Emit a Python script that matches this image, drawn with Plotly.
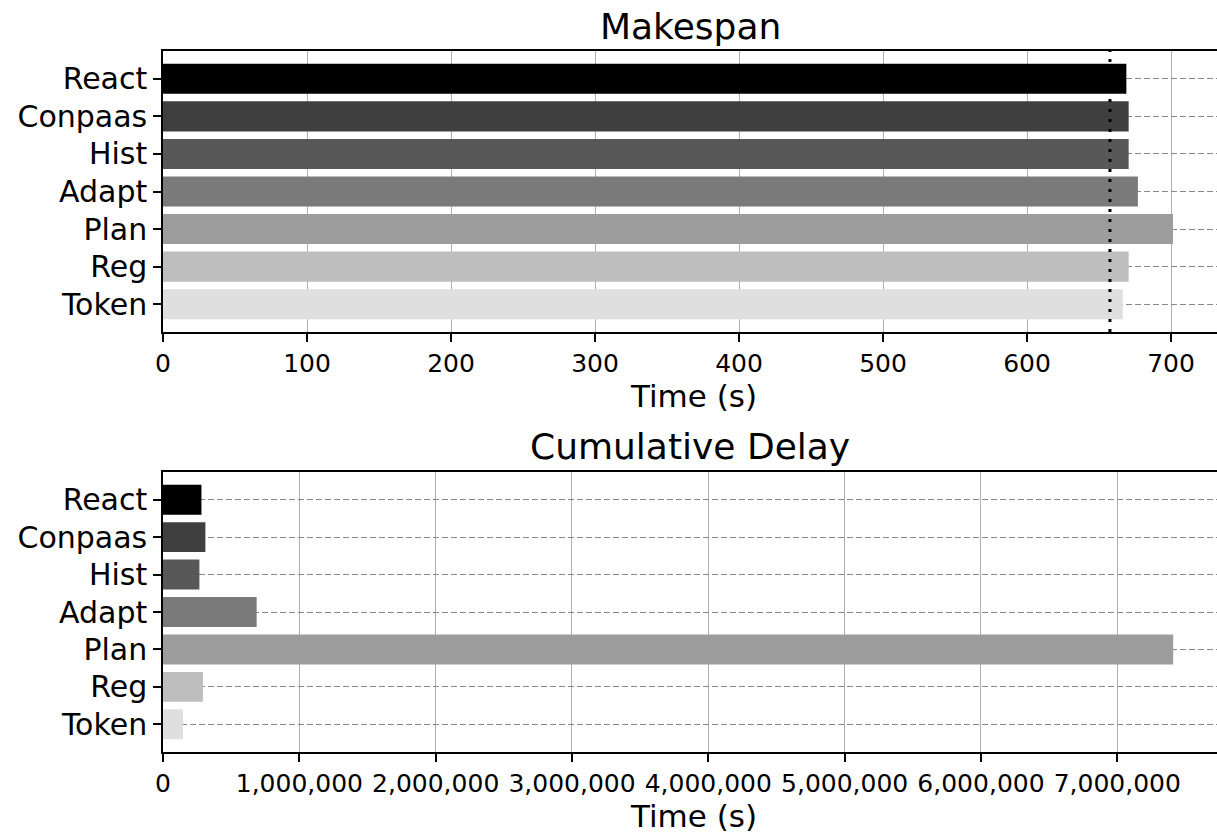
import plotly.graph_objects as go

categories = ["React", "Conpaas", "Hist", "Adapt", "Plan", "Reg", "Token"]
makespan = [669.0, 670.6, 670.6, 677.0, 701.4, 670.6, 666.5]
cum_delay = [282000, 311000, 267000, 687000, 7410000, 293000, 147000]
makespan_ref = 657.6
bar_colors = ["#000000", "#3f3f3f", "#585858", "#7a7a7a", "#9d9d9d", "#bebebe", "#dfdfdf"]
top_ticks = [0, 100, 200, 300, 400, 500, 600, 700]
bottom_ticks = [0, 1e6, 2e6, 3e6, 4e6, 5e6, 6e6, 7e6]
bottom_ticktext = ["0", "1,000,000", "2,000,000", "3,000,000", "4,000,000",
                   "5,000,000", "6,000,000", "7,000,000"]

FONT = "DejaVu Sans"
W, H = 1225, 835  # plot extends slightly past the 1217px window, as in the original crop

fig = go.Figure()
fig.add_trace(go.Bar(x=makespan, y=categories, orientation="h", width=0.8,
                     marker=dict(color=bar_colors, line=dict(width=0)),
                     xaxis="x", yaxis="y", showlegend=False))
fig.add_trace(go.Bar(x=cum_delay, y=categories, orientation="h", width=0.8,
                     marker=dict(color=bar_colors, line=dict(width=0)),
                     xaxis="x2", yaxis="y2", showlegend=False))

def py(px):
    return (H - px) / H

axis_common = dict(showline=True, linecolor="black", linewidth=1.5,
                   ticks="outside", ticklen=8, tickcolor="black", tickwidth=1.5,
                   zeroline=False, automargin=False)
xgrid = dict(showgrid=True, gridcolor="#b0b0b0", gridwidth=1)
ygrid = dict(showgrid=True, gridcolor="#888888", gridwidth=1, griddash="6px,3px")

fig.update_layout(
    width=W, height=H,
    margin=dict(l=163, r=0, t=0, b=0),
    paper_bgcolor="white", plot_bgcolor="white",
    font=dict(family=FONT, color="black"),
    xaxis=dict(domain=[0, 1], anchor="y", range=[0, 737.5], tickvals=top_ticks,
               tickfont=dict(size=25), mirror=True,
               title=dict(text="Time (s)", font=dict(size=31), standoff=8),
               **xgrid, **axis_common),
    yaxis=dict(domain=[py(332), py(51)], anchor="x", type="category",
               categoryorder="array", categoryarray=categories,
               range=[6.74, -0.74], tickfont=dict(size=30),
               **ygrid, **axis_common),
    xaxis2=dict(domain=[0, 1], anchor="y2", range=[0, 7.79e6],
                tickvals=bottom_ticks, ticktext=bottom_ticktext,
                tickfont=dict(size=25), mirror=True,
                title=dict(text="Time (s)", font=dict(size=31), standoff=8),
                **xgrid, **axis_common),
    yaxis2=dict(domain=[py(752), py(472)], anchor="x2", type="category",
                categoryorder="array", categoryarray=categories,
                range=[6.74, -0.74], tickfont=dict(size=30),
                **ygrid, **axis_common),
)

fig.add_shape(type="line", xref="x", yref="y domain",
              x0=makespan_ref, x1=makespan_ref, y0=0, y1=1,
              line=dict(color="black", width=3, dash="3px,7px"))

cx = (690 - 163) / (W - 163)
fig.add_annotation(text="Makespan", xref="paper", yref="paper", x=cx, y=py(26),
                   showarrow=False, font=dict(size=36, family=FONT, color="black"),
                   xanchor="center", yanchor="middle")
fig.add_annotation(text="Cumulative Delay", xref="paper", yref="paper", x=cx, y=py(446),
                   showarrow=False, font=dict(size=36, family=FONT, color="black"),
                   xanchor="center", yanchor="middle")

fig.write_html("out.html", config={"displayModeBar": False},
               post_script="document.body.style.margin='0';"
                           "document.documentElement.style.overflow='hidden';"
                           "document.body.style.overflow='hidden';")
